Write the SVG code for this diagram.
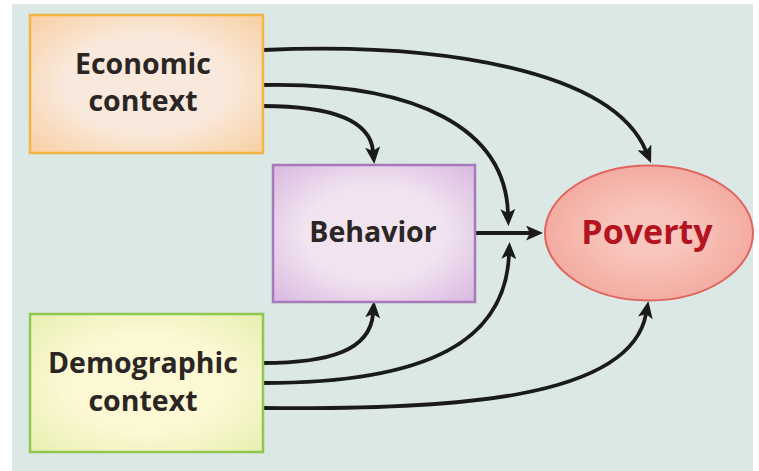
<svg xmlns="http://www.w3.org/2000/svg" width="759" height="471" viewBox="0 0 759 471">
<style>
.lbl{font-family:"Open Sans","Liberation Sans",sans-serif;font-weight:bold;font-size:28.5px;fill:#2b2624;text-anchor:middle}
.pov{font-family:"Open Sans","Liberation Sans",sans-serif;font-weight:bold;font-size:34px;fill:#b3141f;text-anchor:middle}
.edge{fill:none;stroke:#1a1a1a;stroke-width:3.8;marker-end:url(#ah)}
</style>
<defs>
<marker id="ah" viewBox="0 0 17 15" refX="4" refY="7.5" markerWidth="17" markerHeight="15" markerUnits="userSpaceOnUse" orient="auto">
<path d="M0,0 L17,7.5 L0,15 L4,7.5 Z" fill="#1a1a1a"/>
</marker>
<radialGradient id="gEco" cx="50%" cy="50%" r="70%"><stop offset="0.5" stop-color="#f9e9dc"/><stop offset="1" stop-color="#f8cfa2"/></radialGradient>
<radialGradient id="gDem" cx="50%" cy="50%" r="70%"><stop offset="0.5" stop-color="#fcf8d4"/><stop offset="1" stop-color="#e8efb0"/></radialGradient>
<radialGradient id="gBeh" cx="50%" cy="50%" r="70%"><stop offset="0.5" stop-color="#f1e3f0"/><stop offset="1" stop-color="#d9b8e0"/></radialGradient>
<radialGradient id="gPov" cx="50%" cy="50%" r="55%"><stop offset="0.3" stop-color="#f8c6bd"/><stop offset="1" stop-color="#f3a89d"/></radialGradient>
</defs>
<rect x="12" y="4" width="741" height="467" fill="#dce8e5"/>
<g id="connectors">
<path class="edge" d="M263,50 C440,42 612,70 646,151"/>
<path class="edge" d="M263,85 C420,82 505,130 508,213"/>
<path class="edge" d="M263,106 C330,106 370,120 373,151"/>
<path class="edge" d="M475,233 L530,233"/>
<path class="edge" d="M263,363 C330,363 370,350 373,314"/>
<path class="edge" d="M263,383 C430,383 505,340 509,255"/>
<path class="edge" d="M263,408 C450,410 630,400 646,314"/>
</g>
<g id="economic">
<rect x="30" y="15" width="233" height="138" fill="url(#gEco)" stroke="#f2b443" stroke-width="2.5"/>
<text class="lbl" x="143" y="74">Economic</text>
<text class="lbl" x="143" y="111">context</text>
</g>
<g id="behavior">
<rect x="273" y="165" width="202" height="137" fill="url(#gBeh)" stroke="#a67ab9" stroke-width="2.5"/>
<text class="lbl" x="373" y="242">Behavior</text>
</g>
<g id="demographic">
<rect x="30" y="314" width="233" height="138" fill="url(#gDem)" stroke="#8fc851" stroke-width="2.5"/>
<text class="lbl" x="143" y="373">Demographic</text>
<text class="lbl" x="143" y="411">context</text>
</g>
<g id="poverty">
<ellipse cx="649" cy="233" rx="104" ry="67.5" fill="url(#gPov)" stroke="#e0655c" stroke-width="2"/>
<text class="pov" x="647" y="244">Poverty</text>
</g>
</svg>
